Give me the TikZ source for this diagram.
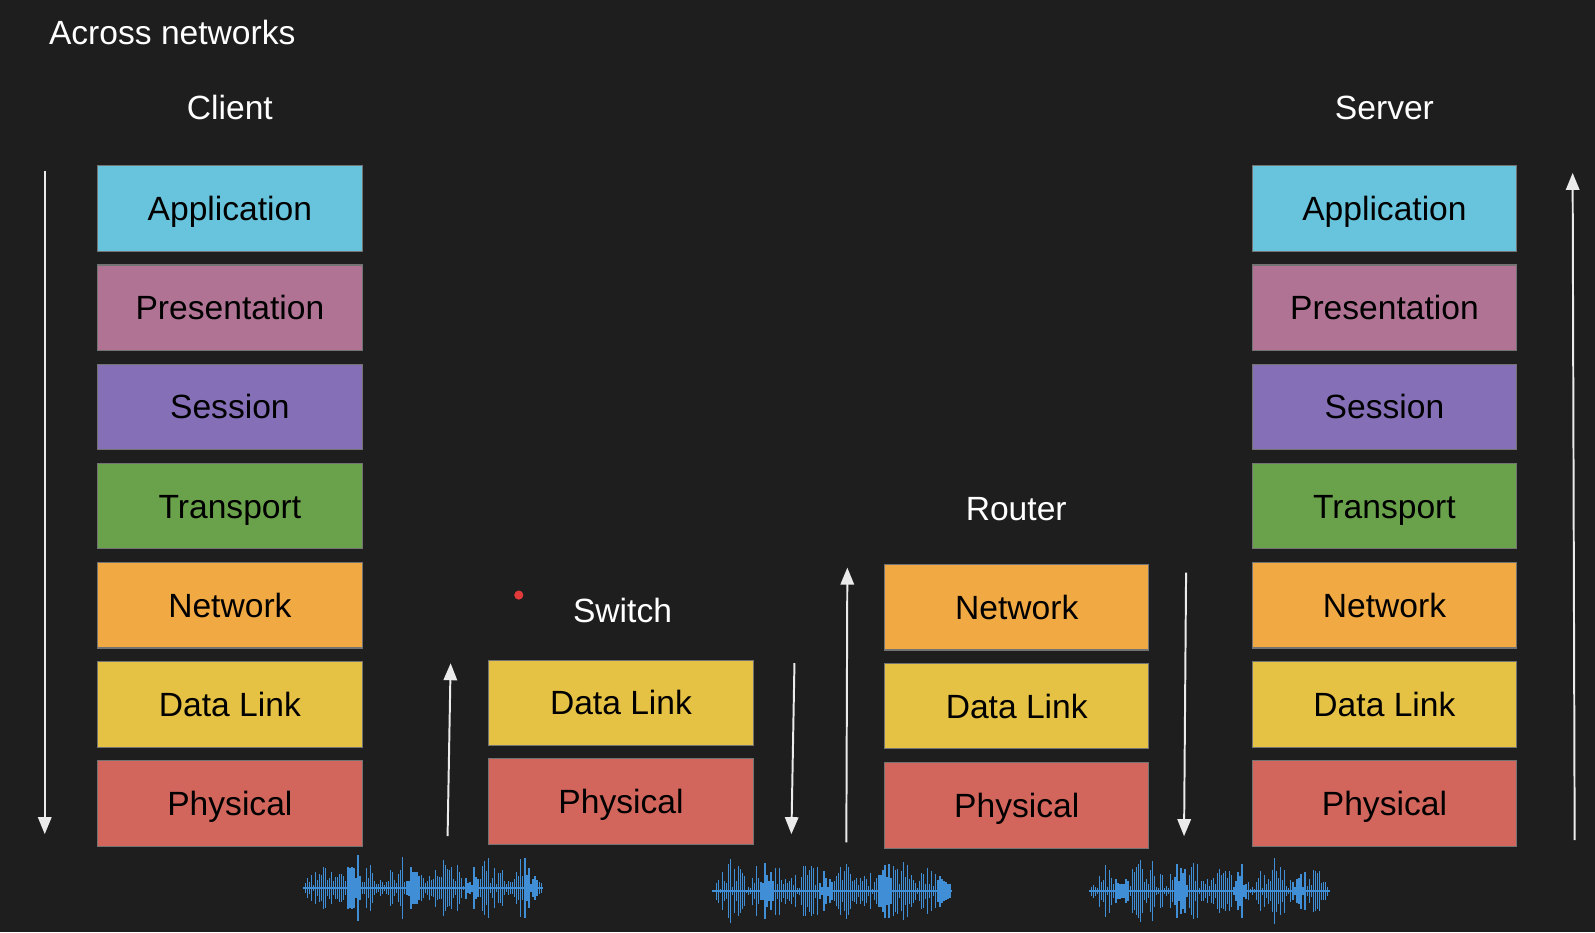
\documentclass[tikz,border=0pt]{standalone}
\usepackage{fontspec}
\setmainfont{Liberation Sans}
\usetikzlibrary{arrows.meta}
\definecolor{bg}{HTML}{1E1E1E}
\definecolor{appc}{HTML}{67C4DC}
\definecolor{presc}{HTML}{B07394}
\definecolor{sessc}{HTML}{8570B8}
\definecolor{tranc}{HTML}{6AA24C}
\definecolor{netc}{HTML}{F1A944}
\definecolor{linkc}{HTML}{E5C144}
\definecolor{physc}{HTML}{D2655C}
\definecolor{wavec}{HTML}{3F8ED6}
\definecolor{dotc}{HTML}{E23A3A}
\begin{document}
\begin{tikzpicture}[x=0.02cm,y=-0.02cm,
    layer/.style={draw=black!55,line width=0.6pt,minimum width=5.2cm,minimum height=1.68cm,
        inner sep=0pt,text height=13.5pt,text depth=0pt,text=black,font=\fontsize{18.8}{20}\selectfont},
    title/.style={text=white,font=\fontsize{18.8}{20}\selectfont},
    flow/.style={draw=white!92!black,line width=1.1pt,-{Triangle[width=7.5pt,length=9.5pt]}},
    wave/.style={draw=wavec,line width=0.7pt}]
    \useasboundingbox[fill=bg] (0,0) rectangle (1568,916.3);

    \node[title,anchor=west] (across) at (42,32) {Across networks};
    \node[title] (client) at (226,106) {Client};
    \node[title] (server) at (1361,106) {Server};
    \node[title] (router) at (999,500) {Router};
    \node[title] (switch) at (612,600) {Switch};
    \fill[dotc] (510,585) circle (4.5);

    % end hosts: all seven layers
    \foreach \s/\x in {c/226,s/1361}{
      \foreach \name/\lab/\col [count=\i] in {app/Application/appc,pres/Presentation/presc,
          sess/Session/sessc,tran/Transport/tranc,net/Network/netc,link/Data Link/linkc,phys/Physical/physc}
        \node[layer,fill=\col] (\s\name) at (\x,{205+97.5*(\i-1)}) {\lab};
    }

    % switch and router
    \node[layer,fill=linkc] (wlink) at (610.5,691) {Data Link};
    \node[layer,fill=physc] (wphys) at (610.5,788) {Physical};
    \node[layer,fill=netc] (rnet) at (999.5,597) {Network};
    \node[layer,fill=linkc] (rlink) at (999.5,694) {Data Link};
    \node[layer,fill=physc] (rphys) at (999.5,792) {Physical};

    % flow of the data
    \coordinate (cdown1) at (44,168);   \coordinate (cdown2) at (44,820);
    \coordinate (wup1) at (440,822);    \coordinate (wup2) at (443,652);
    \coordinate (wdown1) at (781,652);  \coordinate (wdown2) at (778,820);
    \coordinate (rup1) at (832,828);    \coordinate (rup2) at (833,558);
    \coordinate (rdown1) at (1166,563); \coordinate (rdown2) at (1164,822);
    \coordinate (sup1) at (1548,826);   \coordinate (sup2) at (1546,170);
    \draw[flow] (cdown1) -- (cdown2);
    \draw[flow] (wup1) -- (wup2);
    \draw[flow] (wdown1) -- (wdown2);
    \draw[flow] (rup1) -- (rup2);
    \draw[flow] (rdown1) -- (rdown2);
    \draw[flow] (sup1) -- (sup2);

    % signals on the wire
    \pgfmathsetseed{11}
    \foreach \cx/\cy in {416/873,818/876,1189/876}{
      \draw[wave] (\cx-118,\cy) -- (\cx+118,\cy);
      \foreach \k in {-116,-114,...,116}{
        \pgfmathsetmacro\h{(4+30*rnd)*(0.35+0.65*abs(sin(\k*4.3)))*min(1,(122-abs(\k))/22)}
        \draw[wave] (\cx+\k,\cy-\h) -- (\cx+\k,\cy+\h);
      }
    }
\end{tikzpicture}
\end{document}
